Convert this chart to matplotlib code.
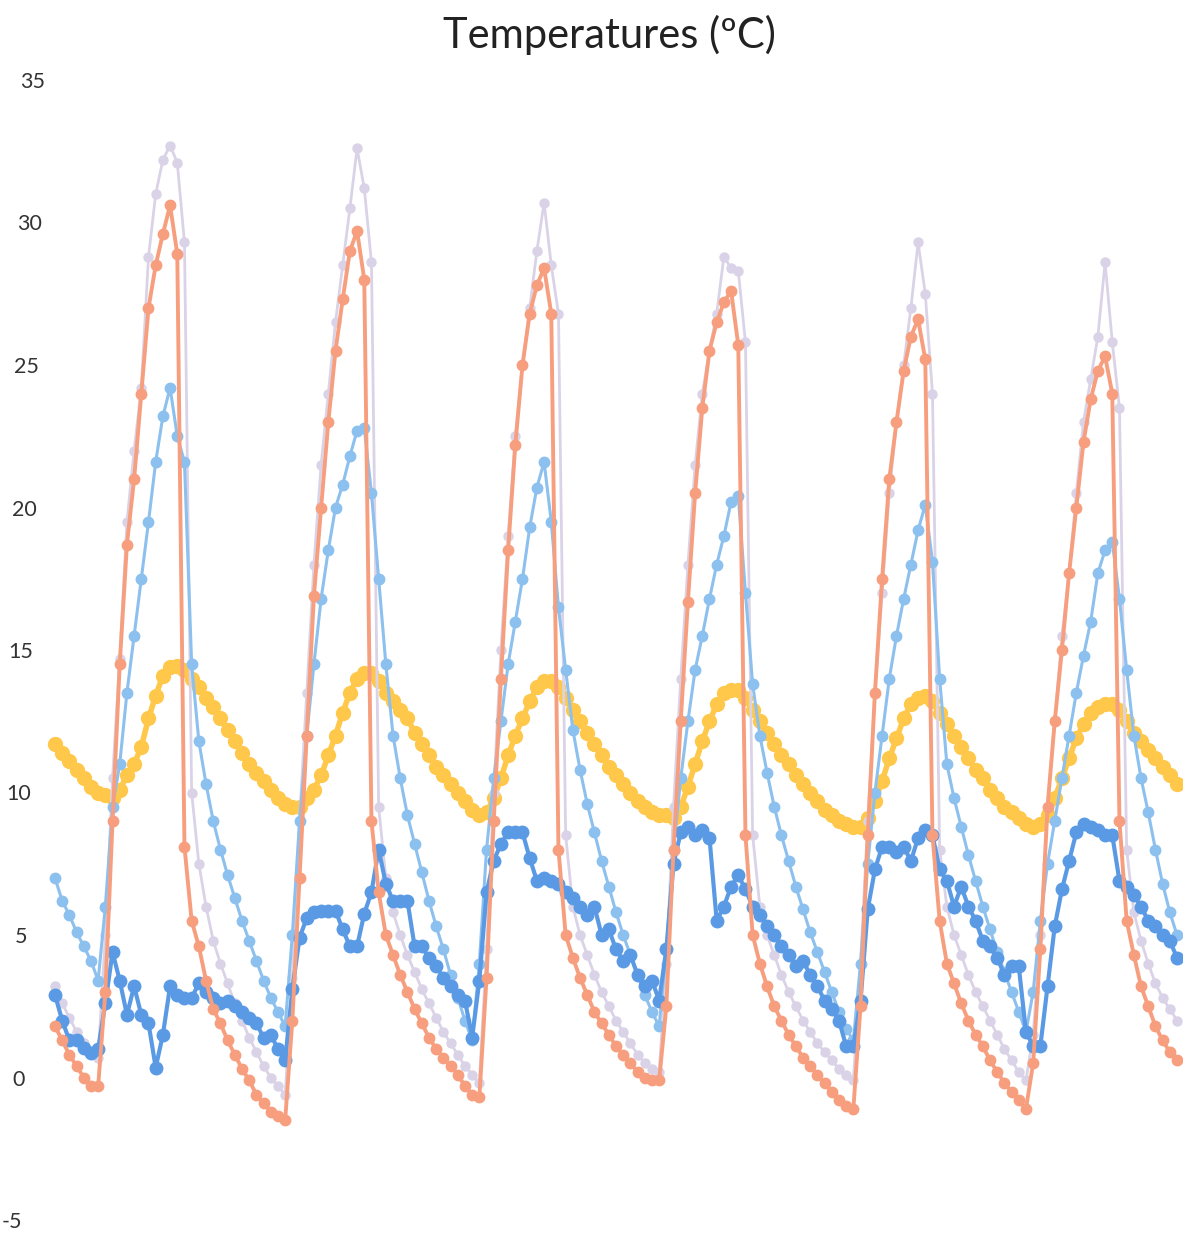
import numpy as np
import matplotlib.pyplot as plt
from matplotlib.transforms import ScaledTranslation

plt.rcParams['axes.unicode_minus'] = False

# serie quinzenal (26 pontos por ano)
laranja = [1.8, 1.3, 0.8, 0.4, 0.0, -0.3, -0.3, 3.0, 9.0, 14.5, 18.7, 21.0, 24.0, 27.0, 28.5, 29.6, 30.6, 28.9,
           8.1, 5.5, 4.6, 3.4, 2.4, 1.9, 1.3, 0.8, 0.3, -0.1, -0.6, -0.9, -1.2, -1.35, -1.5,
           2.0, 7.0, 12.0, 16.9, 20.0, 23.0, 25.5, 27.3, 29.0, 29.7, 28.0, 9.0, 6.5, 5.0, 4.3, 3.6, 3.0, 2.4,
           1.9, 1.4, 1.0, 0.7, 0.4, 0.1, -0.3, -0.6, -0.7,
           3.5, 9.0, 14.0, 18.5, 22.2, 25.0, 26.8, 27.8, 28.4, 26.8, 8.0, 5.0, 4.2, 3.5, 2.9, 2.3, 1.9, 1.5,
           1.1, 0.8, 0.5, 0.2, 0.0, -0.1, -0.1,
           2.5, 8.0, 12.5, 16.7, 20.5, 23.5, 25.5, 26.5, 27.2, 27.6, 25.7, 8.5, 5.0, 4.0, 3.2, 2.5, 2.0, 1.5,
           1.1, 0.7, 0.4, 0.1, -0.2, -0.5, -0.8, -1.0, -1.1,
           2.5, 8.5, 13.5, 17.5, 21.0, 23.0, 24.8, 26.0, 26.6, 25.2, 8.5, 5.5, 4.0, 3.3, 2.6, 2.0, 1.5, 1.1,
           0.6, 0.2, -0.2, -0.5, -0.8, -1.1,
           0.5, 4.5, 9.5, 12.5, 15.0, 17.7, 20.0, 22.3, 23.8, 24.8, 25.3, 24.0, 9.0, 5.5, 4.3, 3.2, 2.5, 1.8,
           1.3, 0.9, 0.6]

lilas = [3.2, 2.6, 2.1, 1.6, 1.2, 0.9, 0.7, 5.0, 10.5, 14.7, 19.5, 22.0, 24.2, 28.8, 31.0, 32.2, 32.7, 32.1,
         29.3, 10.0, 7.5, 6.0, 4.8, 4.0, 3.3, 2.6, 2.0, 1.4, 0.9, 0.4, 0.0, -0.3, -0.6,
         3.5, 9.0, 13.5, 18.0, 21.5, 24.0, 26.5, 28.5, 30.5, 32.6, 31.2, 28.6, 9.5, 7.0, 5.8, 5.0, 4.3, 3.7,
         3.1, 2.6, 2.1, 1.6, 1.2, 0.8, 0.4, 0.1, -0.2,
         4.5, 10.0, 15.0, 19.0, 22.5, 25.0, 27.0, 29.0, 30.7, 28.5, 26.8, 8.5, 6.0, 5.0, 4.3, 3.6, 3.0, 2.5,
         2.0, 1.6, 1.2, 0.8, 0.5, 0.3, 0.2,
         4.0, 9.5, 14.0, 18.0, 21.5, 24.0, 25.5, 26.8, 28.8, 28.4, 28.3, 25.8, 8.5, 6.0, 5.0, 4.3, 3.6, 3.0,
         2.5, 2.0, 1.6, 1.2, 0.9, 0.6, 0.3, 0.1, -0.1,
         4.0, 9.0, 13.5, 17.0, 20.5, 23.0, 25.0, 27.0, 29.3, 27.5, 24.0, 8.0, 6.0, 5.0, 4.3, 3.6, 3.0, 2.5,
         2.0, 1.5, 1.0, 0.6, 0.2, -0.1,
         1.5, 5.0, 9.5, 12.5, 15.5, 17.7, 20.5, 23.0, 24.5, 26.0, 28.6, 25.8, 23.5, 8.0, 5.8, 4.8, 4.0, 3.3,
         2.8, 2.4, 2.0]

azul_claro = [7.0, 6.2, 5.7, 5.1, 4.6, 4.1, 3.4, 6.0, 9.5, 11.0, 13.5, 15.5, 17.5, 19.5, 21.6, 23.2, 24.2, 22.5,
              21.6, 14.5, 11.8, 10.3, 9.0, 8.0, 7.1, 6.3, 5.5, 4.8, 4.1, 3.4, 2.8, 2.3, 1.8,
              5.0, 9.0, 12.0, 14.5, 16.8, 18.5, 20.0, 20.8, 21.8, 22.7, 22.8, 20.5, 17.5, 14.5, 12.0, 10.5, 9.2, 8.2,
              7.2, 6.2, 5.3, 4.5, 3.6, 2.8, 2.0, 1.3, 4.0,
              8.0, 10.5, 12.5, 14.5, 16.0, 17.5, 19.3, 20.7, 21.6, 19.5, 16.5, 14.3, 12.2, 10.8, 9.6, 8.6, 7.6, 6.7,
              5.8, 5.0, 4.3, 3.6, 2.9, 2.3, 1.8,
              4.5, 8.0, 10.5, 12.5, 14.3, 15.5, 16.8, 18.0, 19.0, 20.2, 20.4, 17.0, 13.8, 12.0, 10.7, 9.5, 8.5, 7.6,
              6.7, 5.9, 5.1, 4.4, 3.7, 3.0, 2.3, 1.7, 1.3,
              4.0, 7.5, 10.0, 12.0, 14.0, 15.5, 16.8, 18.0, 19.2, 20.1, 18.1, 14.0, 11.0, 9.8, 8.8, 7.8, 6.9, 6.0,
              5.2, 4.4, 3.7, 3.0, 2.3, 1.6,
              3.0, 5.5, 7.5, 9.0, 10.5, 12.0, 13.5, 14.8, 16.0, 17.7, 18.5, 18.8, 16.8, 14.3, 12.0, 10.5, 9.3, 8.0,
              6.8, 5.8, 5.0]

azul_escuro = [2.9, 2.0, 1.3, 1.3, 1.05, 0.85, 1.0, 2.6, 4.4, 3.4, 2.2, 3.2, 2.2, 1.9, 0.35, 1.5, 3.2, 2.9,
               2.8, 2.8, 3.3, 3.0, 2.8, 2.6, 2.7, 2.5, 2.3, 2.1, 1.9, 1.4, 1.5, 1.0, 0.6,
               3.1, 4.9, 5.6, 5.8, 5.85, 5.85, 5.85, 5.2, 4.6, 4.6, 5.75, 6.5, 8.0, 6.8, 6.2, 6.2, 6.2, 4.6,
               4.6, 4.2, 3.9, 3.5, 3.2, 2.9, 2.7, 1.4, 3.4,
               6.5, 7.6, 8.2, 8.6, 8.6, 8.6, 7.7, 6.9, 7.0, 6.9, 6.8, 6.5, 6.3, 6.0, 5.7, 6.0, 5.0, 5.2,
               4.5, 4.1, 4.3, 3.6, 3.2, 3.4, 2.7,
               4.5, 7.5, 8.6, 8.8, 8.5, 8.7, 8.4, 5.5, 6.0, 6.7, 7.1, 6.6, 6.0, 5.7, 5.3, 5.0, 4.6, 4.3,
               3.9, 4.1, 3.6, 3.2, 2.7, 2.4, 2.0, 1.1, 1.1,
               2.7, 5.9, 7.3, 8.1, 8.1, 7.9, 8.1, 7.6, 8.4, 8.7, 8.5, 7.3, 6.9, 6.0, 6.7, 6.0, 5.5, 4.8,
               4.6, 4.2, 3.6, 3.9, 3.9, 1.6,
               1.1, 1.1, 3.2, 5.3, 6.6, 7.6, 8.6, 8.9, 8.8, 8.7, 8.5, 8.5, 6.9, 6.7, 6.4, 6.0, 5.5, 5.3,
               5.0, 4.8, 4.2]

amarelo = [11.7, 11.4, 11.1, 10.8, 10.5, 10.2, 10.0, 9.9, 9.8, 10.1, 10.6, 11.0, 11.6, 12.6, 13.4, 14.1, 14.4, 14.45,
           14.3, 14.0, 13.7, 13.3, 13.0, 12.6, 12.2, 11.8, 11.4, 11.0, 10.7, 10.4, 10.1, 9.8, 9.6,
           9.5, 9.5, 9.8, 10.1, 10.6, 11.3, 12.0, 12.8, 13.5, 14.0, 14.2, 14.2, 13.9, 13.5, 13.2, 12.9, 12.6, 12.1,
           11.7, 11.3, 10.9, 10.6, 10.3, 10.0, 9.7, 9.4, 9.2,
           9.3, 9.8, 10.5, 11.3, 12.0, 12.6, 13.2, 13.7, 13.9, 13.9, 13.7, 13.3, 12.9, 12.5, 12.1, 11.7, 11.3, 10.9,
           10.6, 10.3, 10.0, 9.7, 9.5, 9.3, 9.2,
           9.2, 9.1, 9.5, 10.2, 11.0, 11.8, 12.5, 13.1, 13.5, 13.6, 13.6, 13.3, 12.9, 12.5, 12.1, 11.7, 11.3, 11.0,
           10.6, 10.3, 10.0, 9.7, 9.4, 9.2, 9.0, 8.9, 8.8,
           8.8, 9.1, 9.7, 10.4, 11.2, 11.9, 12.6, 13.1, 13.3, 13.4, 13.2, 12.8, 12.4, 12.0, 11.6, 11.2, 10.8, 10.5,
           10.1, 9.8, 9.5, 9.3, 9.1, 8.9,
           8.8, 8.9, 9.2, 9.8, 10.5, 11.2, 11.9, 12.4, 12.8, 13.0, 13.1, 13.1, 12.9, 12.5, 12.1, 11.8, 11.5, 11.2,
           10.9, 10.6, 10.3]

# (valores, cor, espessura da linha, tamanho do marcador, ordem)
series = [
    (amarelo, "#FFC84A", 4.0, 10.0, 2),
    (lilas, "#DAD3E7", 2.0, 6.5, 3),
    (azul_claro, "#8CC0EF", 2.2, 7.5, 4),
    (azul_escuro, "#5A9AE5", 3.0, 9.0, 5),
    (laranja, "#F79E7E", 2.8, 7.5, 6),
]

fig = plt.figure(figsize=(11.83, 12.33), dpi=100)
ax = fig.add_axes([55 / 1183, 13 / 1233, 1122 / 1183, 1140 / 1233])

for valores, cor, lw, ms, z in series:
    x = np.arange(len(valores))
    ax.plot(x, valores, color=cor, linewidth=lw, marker='o', markersize=ms,
            zorder=z, clip_on=False)

ax.set_xlim(0, 156)
ax.set_ylim(-5, 35)
ax.set_yticks(range(-5, 36, 5))
ax.set_xticks([])
ax.tick_params(axis='y', length=0, pad=15.5, labelsize=15.5, labelcolor='#333333')

# rotulos levemente inclinados como na imagem digitalizada
for valor, lab in zip(range(-5, 36, 5), ax.get_yticklabels()):
    lab.set_family('Lato')
    dx = 0.575 * (valor - 15) / 100
    lab.set_transform(lab.get_transform() + ScaledTranslation(dx, 0, fig.dpi_scale_trans))
for s in ax.spines.values():
    s.set_visible(False)

fig.text(0.515, 0.972, "Temperatures (ºC)", ha='center', va='center',
         fontsize=30, family='Lato', color='#222222')

fig.savefig("out.png", dpi=100)
